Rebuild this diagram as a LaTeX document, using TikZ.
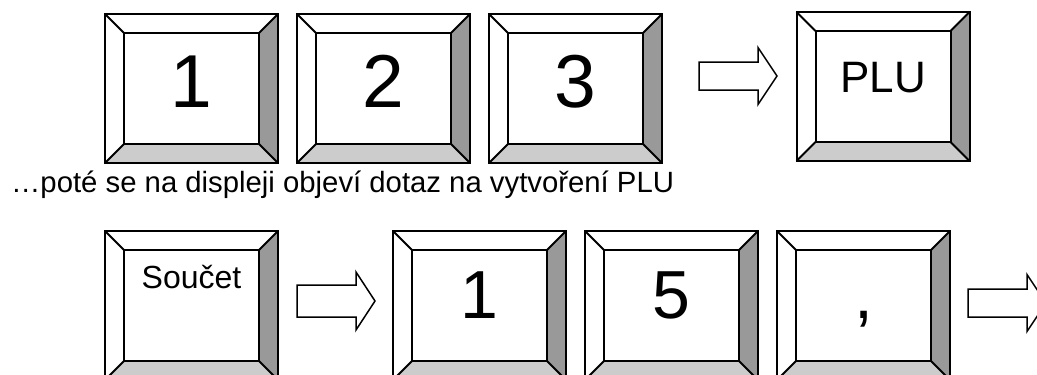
\documentclass[tikz,border=0pt]{standalone}
\usepackage{fontspec}
\setmainfont{Liberation Sans}
\usetikzlibrary{calc}
\definecolor{darkbevel}{HTML}{999999}
\definecolor{lightbevel}{HTML}{CCCCCC}
\tikzset{
  keyouter/.style={rectangle, fill=white, minimum width=173pt, minimum height=149pt, inner sep=0pt, outer sep=0pt},
  keyinner/.style={rectangle, minimum width=135pt, minimum height=111pt, inner sep=0pt, outer sep=0pt},
  keyline/.style={draw=black, line width=2pt, line join=miter},
  arrowline/.style={draw=black, fill=white, line width=1.5pt, line join=miter},
  bigdigit/.style={inner sep=0pt, font=\fontsize{75}{80}\selectfont},
  middigit/.style={inner sep=0pt, font=\fontsize{68}{72}\selectfont},
  plulabel/.style={inner sep=0pt, font=\fontsize{44}{48}\selectfont},
  sumlabel/.style={inner sep=0pt, font=\fontsize{32}{36}\selectfont},
  caption/.style={inner sep=0pt, font=\fontsize{29.3}{33}\selectfont}
}
% #1 name, #2 centre x, #3 centre y, #4 label, #5 label style, #6 label baseline y
\newcommand\keycap[6]{%
  \node[keyouter] (#1) at (#2,#3) {};
  \node[keyinner] (#1f) at (#2,#3) {};
  \fill[darkbevel] (#1.north east) -- (#1.south east) -- (#1f.south east) -- (#1f.north east) -- cycle;
  \fill[lightbevel] (#1.south west) -- (#1.south east) -- (#1f.south east) -- (#1f.south west) -- cycle;
  \draw[keyline] (#1.north west) -- (#1f.north west)
                 (#1.north east) -- (#1f.north east)
                 (#1.south west) -- (#1f.south west)
                 (#1.south east) -- (#1f.south east);
  \draw[keyline] (#1f.north west) rectangle (#1f.south east);
  \draw[keyline] (#1.north west) rectangle (#1.south east);
  \node[#5, anchor=base] (#1t) at (#2,#6) {#4};
}
% #1 name, #2 left x, #3 centre y, #4 shaft half height, #5 head half height
\newcommand\blockarrow[5]{%
  \coordinate (#1) at (#2,#3);
  \draw[arrowline] ($(#1)+(0,-#4)$) -- ($(#1)+(59,-#4)$) -- ($(#1)+(59,-#5)$)
     -- ($(#1)+(78,0)$) -- ($(#1)+(59,#5)$) -- ($(#1)+(59,#4)$) -- ($(#1)+(0,#4)$) -- cycle;
}
\begin{document}
\begin{tikzpicture}[x=1pt,y=-1pt]
\useasboundingbox (0,0) rectangle (1037,375);
\fill[white] (0,0) rectangle (1037,375);
% top row
\keycap{k1}{191.5}{88.5}{1}{bigdigit}{107}
\keycap{k2}{383.5}{88.5}{2}{bigdigit}{107}
\keycap{k3}{575.5}{88.5}{3}{bigdigit}{107}
\blockarrow{a1}{699}{76}{14}{28.5}
\keycap{kplu}{883}{86.5}{PLU}{plulabel}{92}
\node[caption, anchor=base west] (cap) at (11,192) {…poté se na displeji objeví dotaz na vytvoření PLU};
% bottom row
\keycap{ks}{191.5}{305.5}{Součet}{sumlabel}{288}
\blockarrow{a2}{297}{301}{16}{29}
\keycap{k4}{479.5}{305.5}{1}{middigit}{318}
\keycap{k5}{671.5}{305.5}{5}{middigit}{318}
\keycap{k6}{863.5}{305.5}{,}{middigit}{318}
\blockarrow{a3}{968}{303}{14}{28.5}
\end{tikzpicture}
\end{document}
